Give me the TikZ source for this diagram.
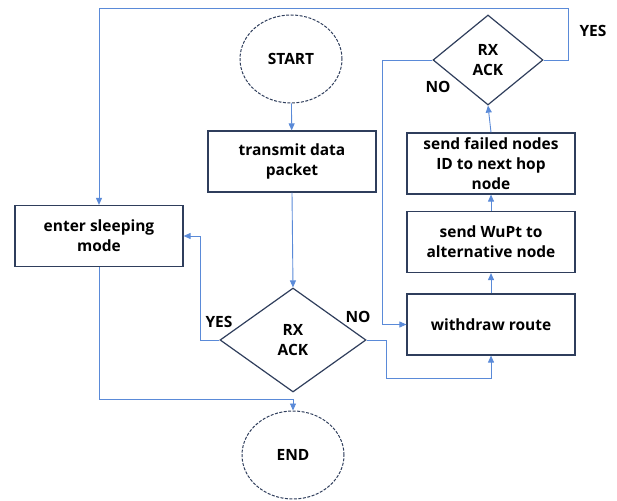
\documentclass[tikz,border=0pt]{standalone}
\usepackage{fontspec}
\setmainfont{Open Sans}
\usetikzlibrary{shapes.geometric,arrows.meta}
\definecolor{edge}{HTML}{2F3E5C}
\definecolor{flowc}{HTML}{5A8AD8}
\begin{document}
\begin{tikzpicture}[x=1pt,y=-1pt,
  every node/.style={font=\fontsize{15.5}{20}\selectfont\bfseries, align=center, inner sep=0pt},
  procbox/.style={draw=edge, line width=1.2pt, rectangle, minimum width=168pt, minimum height=61pt},
  termnode/.style={draw=edge, line width=1pt, ellipse, dash pattern=on 3pt off 1.5pt, minimum width=102pt, minimum height=88pt},
  decide/.style={draw=edge, line width=1.2pt, diamond, minimum width=146pt, minimum height=104pt},
  flow/.style={draw=flowc, line width=0.9pt, -{Triangle[width=6pt,length=7pt]}},
  lbl/.style={font=\fontsize{15.5}{16}\selectfont\bfseries}]
\useasboundingbox (0,0) rectangle (617,500);

% nodes
\node[termnode] (start) at (291,59) {START};
\node[procbox] (tx) at (292,161.5) {transmit data\\packet};
\node[decide] (ack1) at (293,340) {RX\\ACK};
\node[procbox] (sleep) at (99,236) {enter sleeping\\mode};
\node[termnode] (end) at (293,455) {END};
\node[procbox] (wd) at (491,324.5) {withdraw route};
\node[procbox] (wupt) at (491,242) {send WuPt to\\alternative node};
\node[procbox] (fail) at (491,163.5) {send failed nodes\\ID to next hop\\node};
\node[decide, minimum width=110pt, minimum height=90pt] (ack2) at (488,60) {RX\\ACK};

% labels
\node[lbl] (yes2) at (593,31) {YES};
\node[lbl] (no2) at (438,87) {NO};
\node[lbl] (yes1) at (219,322) {YES};
\node[lbl] (no1) at (358,317) {NO};

% connectors
\draw[flow] (start) -- (tx);
\draw[flow] (tx.south) -- (ack1.north);
\draw[flow] (ack1.west) -- ++(-19,0) |- (sleep.east);
\draw[flow] (sleep.south) -- ++(0,132) -| (end.north);
\draw[flow] (ack1.east) -- ++(20,0) -- ++(0,38) -| (wd.south);
\draw[flow] (wd.north) -- (wupt.south);
\draw[flow] (wupt.north) -- (fail.south);
\draw[flow] (fail.north) -- (ack2.south);
\draw[flow] (ack2.east) -- ++(25,0) -- ++(0,-52) -| (sleep.north);
\draw[flow] (ack2.west) -- ++(-50,0) |- (wd.west);
\end{tikzpicture}
\end{document}
